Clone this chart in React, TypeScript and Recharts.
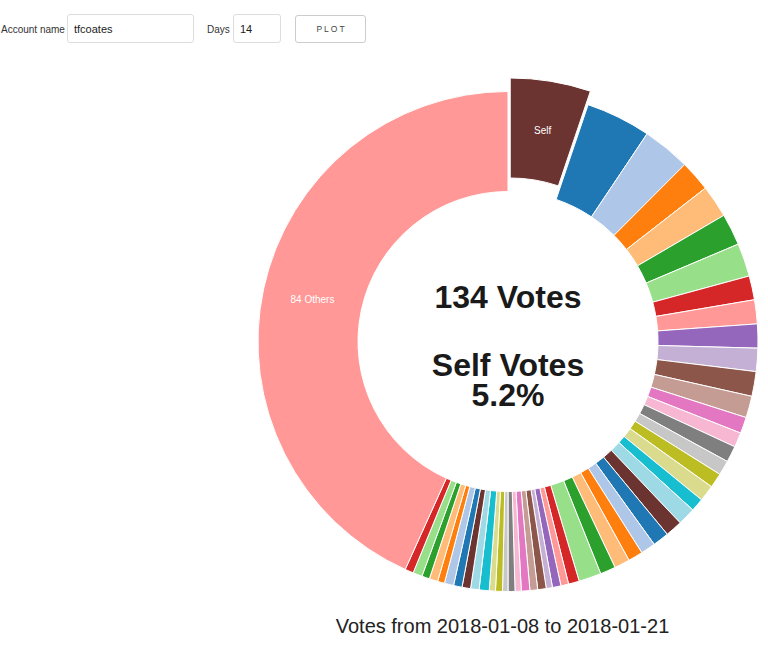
import { Cell, Pie, PieChart } from "recharts";

// vote share (%) per voter, clockwise from 12 o'clock, Self first, "Others" last
const selfShare = 5.2;
const voterShares = [
  4.2, 3.1, 2.0, 2.1, 2.05, 2.15, 1.55, 1.55, 1.55, 1.5, 1.6, 1.4, 1.05, 0.95,
  1.05, 0.95, 0.95, 1.05, 0.85, 1.15,
  1.1, 1.05, 0.95, 0.95, 1.0, 1.0, 1.45, 0.7, 0.5, 0.55, 0.4, 0.55, 0.5, 0.55,
  0.4, 0.45, 0.35, 0.45, 0.4, 0.65, 0.55,
  0.55, 0.55, 0.6, 0.45, 0.55, 0.5, 0.6, 0.55,
];
const othersCount = 84;
const othersShare = 43.3;
const totalVotes = 134;
const dateFrom = "2018-01-08";
const dateTo = "2018-01-21";

const palette = [
  "#6c3431", "#1f77b4", "#aec7e8", "#ff7f0e", "#ffbb78", "#2ca02c", "#98df8a",
  "#d62728", "#ff9896", "#9467bd", "#c5b0d5", "#8c564b", "#c49c94", "#e377c2",
  "#f7b6d2", "#7f7f7f", "#c7c7c7", "#bcbd22", "#dbdb8d", "#17becf", "#9edae5",
];

const data = [
  { name: "Self", value: selfShare },
  ...voterShares.map((v, i) => ({ name: `voter ${i + 1}`, value: v })),
  { name: `${othersCount} Others`, value: othersShare },
];

const CX = 508;
const CY = 341.5;
const RAD = Math.PI / 180;
const explode = 13.7;

const total = data.reduce((s, d) => s + d.value, 0);
const selfMid = ((selfShare / total) * 360) / 2;
const selfDx = explode * Math.sin(selfMid * RAD);
const selfDy = -explode * Math.cos(selfMid * RAD);

const makeLabel = (show: number) => (props: any) => {
  const { cx, cy, midAngle, innerRadius, outerRadius, index } = props;
  if (index !== show) return <g />;
  const r = (innerRadius + outerRadius) / 2;
  const x = cx + r * Math.cos(-midAngle * RAD);
  const y = cy + r * Math.sin(-midAngle * RAD);
  return (
    <text
      x={x}
      y={y}
      fill="#fff"
      fontSize={10}
      fontFamily="Liberation Sans, Arial, sans-serif"
      textAnchor="middle"
      dominantBaseline="central"
    >
      {data[index].name}
    </text>
  );
};

const font = "Liberation Sans, Arial, sans-serif";

function App() {
  return (
    <div
      style={{
        position: "absolute",
        left: 0,
        top: 0,
        width: 768,
        height: 649,
        background: "#fff",
        fontFamily: font,
      }}
    >
      {/* form row */}
      <span style={{ position: "absolute", left: 1, top: 24, fontSize: 10, color: "#333" }}>
        Account name
      </span>
      <input
        readOnly
        defaultValue="tfcoates"
        style={{
          position: "absolute",
          left: 67,
          top: 14,
          width: 127,
          height: 29,
          boxSizing: "border-box",
          border: "1px solid #ddd",
          borderRadius: 3,
          padding: "0 6px",
          fontSize: 11,
          fontFamily: font,
          color: "#222",
        }}
      />
      <span style={{ position: "absolute", left: 207, top: 24, fontSize: 10, color: "#333" }}>
        Days
      </span>
      <input
        readOnly
        defaultValue="14"
        style={{
          position: "absolute",
          left: 233,
          top: 14,
          width: 48,
          height: 29,
          boxSizing: "border-box",
          border: "1px solid #ddd",
          borderRadius: 3,
          padding: "0 6px",
          fontSize: 11,
          fontFamily: font,
          color: "#222",
        }}
      />
      <div
        style={{
          position: "absolute",
          left: 295,
          top: 15,
          width: 71,
          height: 28,
          boxSizing: "border-box",
          border: "1px solid #ccc",
          borderRadius: 3,
          fontSize: 8.5,
          letterSpacing: 2,
          color: "#444",
          display: "flex",
          alignItems: "center",
          justifyContent: "center",
          paddingLeft: 2,
        }}
      >
        PLOT
      </div>

      <div style={{ position: "absolute", left: 0, top: 0 }}>
        <PieChart width={768} height={649} margin={{ top: 0, right: 0, bottom: 0, left: 0 }}>
          <Pie
            data={data}
            dataKey="value"
            nameKey="name"
            cx={CX}
            cy={CY}
            innerRadius={150}
            outerRadius={250}
            startAngle={90}
            endAngle={-270}
            stroke="#fff"
            strokeWidth={1}
            label={makeLabel(data.length - 1)}
            labelLine={false}
            isAnimationActive={false}
          >
            {data.map((d, i) => (
              <Cell
                key={d.name}
                fill={i === 0 ? "none" : palette[i % palette.length]}
                stroke={i === 0 ? "none" : "#fff"}
              />
            ))}
          </Pie>
          <Pie
            data={data}
            dataKey="value"
            nameKey="name"
            cx={CX + selfDx}
            cy={CY + selfDy}
            innerRadius={150}
            outerRadius={250}
            startAngle={90}
            endAngle={-270}
            label={makeLabel(0)}
            labelLine={false}
            isAnimationActive={false}
          >
            {data.map((d, i) => (
              <Cell
                key={d.name}
                fill={i === 0 ? palette[0] : "none"}
                stroke={i === 0 ? "#fff" : "none"}
              />
            ))}
          </Pie>
        </PieChart>
      </div>

      <svg
        width={768}
        height={649}
        style={{ position: "absolute", left: 0, top: 0, pointerEvents: "none" }}
      >
        <g fontFamily={font} fontWeight="bold" fontSize={32} fill="#1a1a1a" textAnchor="middle">
          <text x={CX} y={308}>{`${totalVotes} Votes`}</text>
          <text x={CX} y={375.5}>Self Votes</text>
          <text x={CX} y={405.5}>{`${selfShare}%`}</text>
        </g>
        <text x={502.5} y={633} fontFamily={font} fontSize={20} fill="#222" textAnchor="middle">
          {`Votes from ${dateFrom} to ${dateTo}`}
        </text>
      </svg>
    </div>
  );
}

export default App;
